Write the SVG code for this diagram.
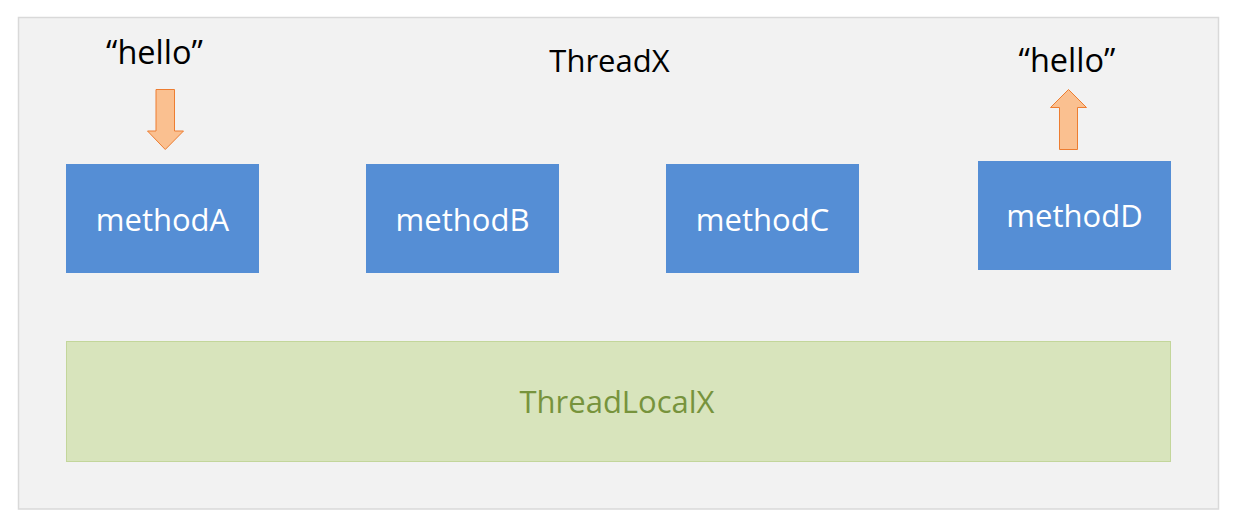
<svg xmlns="http://www.w3.org/2000/svg" width="1236" height="527" viewBox="0 0 1236 527">
<style>
.t{font-family:"Open Sans","Noto Sans",sans-serif;font-size:31px;text-anchor:middle}
.h{font-size:32.5px}
.m rect{fill:#558ED5}
.m text{fill:#ffffff}
.arr{fill:#FAC090;stroke:#ED7D31;stroke-width:1}
</style>
<rect width="1236" height="527" fill="#ffffff"/>
<g id="threadX">
<rect x="18.5" y="17.5" width="1200" height="491.5" fill="#F2F2F2" stroke="#D9D9D9" stroke-width="1.5"/>
<text class="t" x="609.5" y="72" fill="#000000">ThreadX</text>
</g>
<g id="threadLocalX">
<rect x="66.5" y="341.5" width="1104" height="120" fill="#D8E4BC" stroke="#C3D69B" stroke-width="1"/>
<text class="t" x="617" y="413" fill="#77933C">ThreadLocalX</text>
</g>
<g id="methodA" class="m">
<rect x="66" y="164" width="193" height="109"/>
<text class="t" x="162.5" y="231">methodA</text>
</g>
<g id="methodB" class="m">
<rect x="366" y="164" width="193" height="109"/>
<text class="t" x="462.5" y="231">methodB</text>
</g>
<g id="methodC" class="m">
<rect x="666" y="164" width="193" height="109"/>
<text class="t" x="762.5" y="231">methodC</text>
</g>
<g id="methodD" class="m">
<rect x="978" y="161" width="193" height="109"/>
<text class="t" x="1074.5" y="227">methodD</text>
</g>
<g id="helloIn">
<text class="t h" x="154.5" y="64" fill="#000000">“hello”</text>
</g>
<g id="helloOut">
<text class="t h" x="1067" y="72" fill="#000000">“hello”</text>
</g>
<g id="connectors">
<polygon class="arr" points="156,89.5 174.5,89.5 174.5,131 183.5,131 165.25,149.5 147.5,131 156,131"/>
<polygon class="arr" points="1059.5,149.5 1077.5,149.5 1077.5,107.5 1086.5,107.5 1068.5,89.5 1050.5,107.5 1059.5,107.5"/>
</g>
</svg>
